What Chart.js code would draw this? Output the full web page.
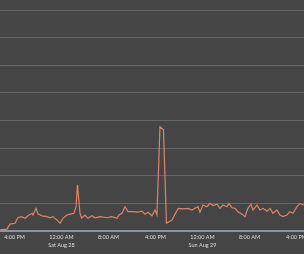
<!DOCTYPE html>
<html>
<head>
<meta charset="utf-8">
<script src="https://cdn.jsdelivr.net/npm/chart.js@4/dist/chart.umd.min.js"></script>
<style>
  html, body { margin: 0; padding: 0; background: #454545; }
  #wrap { width: 304px; height: 254px; }
</style>
</head>
<body>
<div id="wrap"><canvas id="trafficChart"></canvas></div>
<script>
// hours since Fri Aug 27 00:00
const hours = [
  13.53, 14.72, 15.23, 16.08, 16.59, 17.22, 17.79, 18.30, 18.98, 19.15,
  19.66, 20.00, 20.68, 21.53, 22.04, 22.55, 23.23, 23.74, 24.25, 24.93,
  25.45, 26.13, 26.47, 26.72, 27.15, 27.44, 28.00, 28.51, 29.19, 29.70,
  30.55, 31.74, 32.59, 33.44, 33.79, 34.30, 34.81, 35.32, 36.17, 37.02,
  37.70, 38.21, 38.72, 39.40, 39.91, 40.25, 40.76, 41.36, 41.87, 42.81,
  43.32, 43.88, 44.68, 45.53, 46.21, 46.72, 47.23, 47.57, 48.08, 48.76,
  49.27, 49.79, 50.47, 50.98, 51.49, 52.17, 52.51, 53.02, 53.53, 54.04,
  54.72, 55.23, 55.74, 56.25, 56.60, 57.27, 57.79, 58.30, 58.98, 59.49,
  60.00, 60.68, 61.19, 61.70, 62.38, 62.89, 63.40, 64.08, 64.59, 65.28
];
const values = [
  0.4, 0.7, 2.5, 2.8, 4.8, 5.2, 4.6, 5.5, 6.4, 5.8,
  8.2, 6.2, 5.5, 5.2, 4.8, 5.2, 4.0, 2.8, 4.6, 5.8,
  6.1, 6.4, 8.8, 16.7, 6.4, 4.7, 5.8, 4.6, 5.5, 4.8,
  5.2, 4.8, 5.2, 4.6, 5.8, 6.4, 8.8, 7.0, 7.0, 6.8,
  7.2, 6.1, 6.8, 5.5, 7.6, 5.8, 37.7, 36.6, 2.8, 4.0,
  6.1, 8.2, 8.0, 8.2, 7.6, 8.2, 8.8, 6.8, 9.4, 8.8,
  10.0, 9.2, 9.7, 8.2, 9.4, 8.8, 10.0, 8.4, 8.2, 7.0,
  6.1, 5.2, 8.2, 9.7, 7.6, 9.4, 7.6, 8.2, 7.2, 8.2,
  6.4, 7.6, 5.8, 5.2, 5.8, 7.0, 6.4, 8.8, 10.0, 9.4
];
const tickHours = [16, 24, 32, 40, 48, 56, 64];
const tickLabels = [
  "4:00 PM", ["12:00 AM", "Sat Aug 28"], "8:00 AM", "4:00 PM",
  ["12:00 AM", "Sun Aug 29"], "8:00 AM", "4:00 PM"
];

const bgPlugin = {
  id: "bg",
  beforeDraw(chart) {
    const ctx = chart.ctx;
    ctx.save();
    ctx.fillStyle = "#454545";
    ctx.fillRect(0, 0, chart.width, chart.height);
    ctx.restore();
  }
};

const points = hours.map((h, i) => ({ x: h, y: values[i] }));

new Chart(document.getElementById("trafficChart"), {
  type: "line",
  data: {
    datasets: [{
      data: points,
      borderColor: "#dc8468",
      borderWidth: 1.2,
      pointRadius: 0,
      tension: 0,
      fill: false
    }]
  },
  options: {
    responsive: true,
    maintainAspectRatio: false,
    animation: false,
    layout: { padding: { top: 10, left: 0, right: 0, bottom: 0 } },
    plugins: { legend: { display: false }, tooltip: { enabled: false } },
    scales: {
      x: {
        type: "linear",
        min: hours[0],
        max: hours[hours.length - 1],
        grid: { display: false, drawTicks: false },
        border: { display: true, color: "#8796a6", width: 2 },
        afterBuildTicks: scale => {
          scale.ticks = tickHours.map(v => ({ value: v }));
        },
        afterFit: scale => {
          scale.height = 23;
          scale.paddingLeft = 0;
          scale.paddingRight = 0;
        },
        ticks: {
          autoSkip: false,
          maxRotation: 0,
          padding: 3,
          color: "#dddddd",
          font: { family: "Lato", size: 5.5, lineHeight: 1.35 },
          callback: (value) => {
            const i = tickHours.indexOf(value);
            return i >= 0 ? tickLabels[i] : "";
          }
        }
      },
      y: {
        min: 0,
        max: 80,
        afterBuildTicks: scale => {
          scale.ticks = [0, 10, 20, 30, 40, 50, 60, 70, 80].map(v => ({ value: v }));
        },
        afterFit: scale => { scale.width = 0; },
        grid: { color: "#666666", lineWidth: 1, drawTicks: false },
        border: { display: false },
        ticks: { display: false }
      }
    }
  },
  plugins: [bgPlugin]
});
</script>
</body>
</html>
